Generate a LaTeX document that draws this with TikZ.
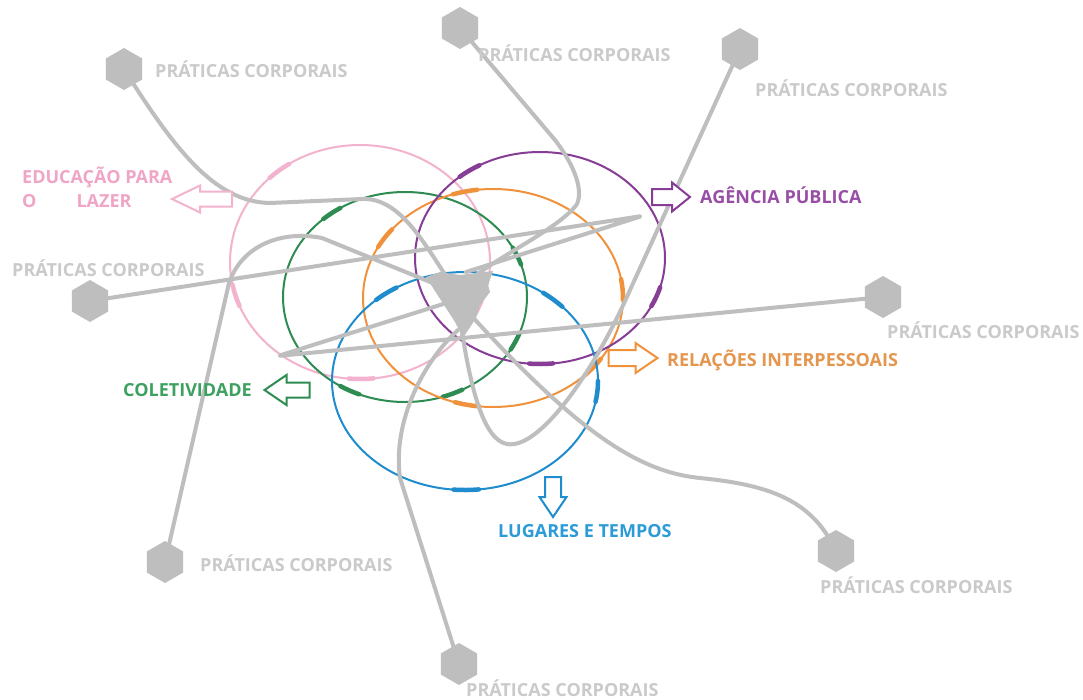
\documentclass[tikz,border=0pt]{standalone}
\usepackage{fontspec}
\setmainfont{Open Sans}
\usetikzlibrary{shapes.geometric,backgrounds}
\definecolor{grayl}{RGB}{190,190,190}
\definecolor{grayt}{RGB}{202,202,202}
\definecolor{pinkc}{RGB}{243,178,205}
\definecolor{pinkt}{RGB}{240,165,198}
\definecolor{greenc}{RGB}{46,140,82}
\definecolor{greent}{RGB}{62,160,96}
\definecolor{orangec}{RGB}{240,145,60}
\definecolor{oranget}{RGB}{228,150,78}
\definecolor{purplec}{RGB}{135,60,150}
\definecolor{purplet}{RGB}{152,78,166}
\definecolor{bluec}{RGB}{30,140,205}
\definecolor{bluet}{RGB}{45,155,215}
\begin{document}
\begin{tikzpicture}[x=1pt,y=-1pt,
  gline/.style={draw=grayl, line width=4pt, line cap=round, line join=round},
  hexn/.style={regular polygon, regular polygon sides=6, rotate=30, fill=grayl, draw=none, minimum size=42pt, inner sep=0pt},
  lab/.style={font=\bfseries\fontsize{18}{24}\selectfont, inner sep=0pt, anchor=west},
  plab/.style={lab, text=grayt},
  ring/.style={line width=2pt},
  tick/.style={line width=4.5pt, line cap=round},
  pics/barrow/.style args={#1/#2/#3/#4}{code={
    \draw[line width=2pt, line join=miter, fill=white]
      (-#1/2,-#2) -- (#1/2-#4,-#2) -- (#1/2-#4,-#3) -- (#1/2,0) --
      (#1/2-#4,#3) -- (#1/2-#4,#2) -- (-#1/2,#2) -- cycle;}}
]
\useasboundingbox (0,0) rectangle (1083,699);

% hexagons
\node[hexn] (h1) at (124,69) {};
\node[hexn] (h2) at (460,28) {};
\node[hexn] (h3) at (740,49) {};
\node[hexn] (h4) at (90,301) {};
\node[hexn] (h5) at (883,297) {};
\node[hexn] (h6) at (165,562) {};
\node[hexn] (h7) at (836,551) {};
\node[hexn] (h8) at (459,664) {};

% ends of the gray lines in the centre
\coordinate (c1) at (450,282);
\coordinate (c2) at (470,280);
\coordinate (c3) at (462,332);
\coordinate (c4) at (466,272);
\coordinate (c5) at (456,300);
\coordinate (c6) at (445,288);
\coordinate (c7) at (458,330);
\coordinate (c8) at (468,312);

\begin{scope}[on background layer]
  \fill[white] (0,0) rectangle (1083,699);
  % circles
  \draw[pinkc, ring] (360,262) ellipse[x radius=130, y radius=117];
  \foreach \a in {226,158,84}
    \draw[pinkc, tick] (360,262) ++(\a:130 and 117) arc[start angle=\a, delta angle=11, x radius=130, y radius=117];
  \draw[greenc, ring] (405,297) ellipse[x radius=122, y radius=105];
  \foreach \a in {228,332,20,112,62}
    \draw[greenc, tick] (405,297) ++(\a:122 and 105) arc[start angle=\a, delta angle=10, x radius=122, y radius=105];
  \draw[orangec, ring] (493,298) ellipse[x radius=130, y radius=109];
  \foreach \a in {208,252,350,96,34}
    \draw[orangec, tick] (493,298) ++(\a:130 and 109) arc[start angle=\a, delta angle=11, x radius=130, y radius=109];
  \draw[purplec, ring] (540,258) ellipse[x radius=125, y radius=106];
  \foreach \a in {230,16,84}
    \draw[purplec, tick] (540,258) ++(\a:125 and 106) arc[start angle=\a, delta angle=11, x radius=125, y radius=106];
  \draw[bluec, ring] (465,381) ellipse[x radius=133, y radius=109];
  \foreach \a in {228,306,0,84}
    \draw[bluec, tick] (465,381) ++(\a:133 and 109) arc[start angle=\a, delta angle=11, x radius=133, y radius=109];

  % gray lines
  \draw[gline] (h1.center) .. controls (175,150) and (215,202) .. (270,203)
     -- (362,199) .. controls (400,197) and (425,245) .. (c1);
  \draw[gline] (h2.center) -- (555,140) .. controls (572,162) and (584,188) .. (577,204)
     .. controls (560,228) and (500,255) .. (c2);
  \draw[gline] (h3.center) -- (630,290) .. controls (595,370) and (540,450) .. (507,444)
     .. controls (485,440) and (472,395) .. (c3);
  \draw[gline, rounded corners=3pt] (h4.center) -- (642,216) -- (c4);
  \draw[gline, rounded corners=3pt] (h5.center) -- (278,356) -- (c5);
  \draw[gline] (h6.center) -- (229,283) .. controls (242,245) and (282,230) .. (322,238)
     -- (c6);
  \draw[gline] (h8.center) -- (400,478) .. controls (392,420) and (425,360) .. (c7);
  \draw[gline] (h7.center) .. controls (812,500) and (770,485) .. (700,478)
     .. controls (640,472) and (580,435) .. (c8);
\end{scope}

% central shape
\fill[grayl] (426,277) -- (440,272) -- (460,275) -- (493,271) -- (488,285) -- (490,292)
  -- (480,305) -- (476,318) -- (463,338) -- (455,322) -- (444,305) -- cycle;

% block arrows
\pic[pinkc, rotate=180] at (202,199) {barrow=60/7.5/13.5/28};
\pic[greenc, rotate=180] at (287,390) {barrow=45/7.5/15/22};
\pic[orangec] at (633,358) {barrow=49/8/15/22};
\pic[purplec] at (671,197) {barrow=38/8/14.5/18};
\pic[bluec, rotate=-90] at (553,497) {barrow=40/8/13.5/20};

% labels
\node[plab] (l1) at (155,69) {PRÁTICAS CORPORAIS};
\node[plab] (l2) at (478,53) {PRÁTICAS CORPORAIS};
\node[plab] (l3) at (755,88) {PRÁTICAS CORPORAIS};
\node[plab] (l4) at (12,268) {PRÁTICAS CORPORAIS};
\node[plab] (l5) at (887,330) {PRÁTICAS CORPORAIS};
\node[plab] (l6) at (200,563) {PRÁTICAS CORPORAIS};
\node[plab] (l7) at (820,585) {PRÁTICAS CORPORAIS};
\node[plab] (l8) at (466,688) {PRÁTICAS CORPORAIS};

\node[lab, text=pinkt, align=left] (edu) at (22,187) {EDUCAÇÃO PARA\\O\hspace{40pt}LAZER};
\node[lab, text=greent] (col) at (123,390) {COLETIVIDADE};
\node[lab, text=oranget] (rel) at (667,360) {RELAÇÕES INTERPESSOAIS};
\node[lab, text=purplet] (age) at (700,195) {AGÊNCIA PÚBLICA};
\node[lab, text=bluet] (lug) at (498,531) {LUGARES E TEMPOS};
\end{tikzpicture}
\end{document}
